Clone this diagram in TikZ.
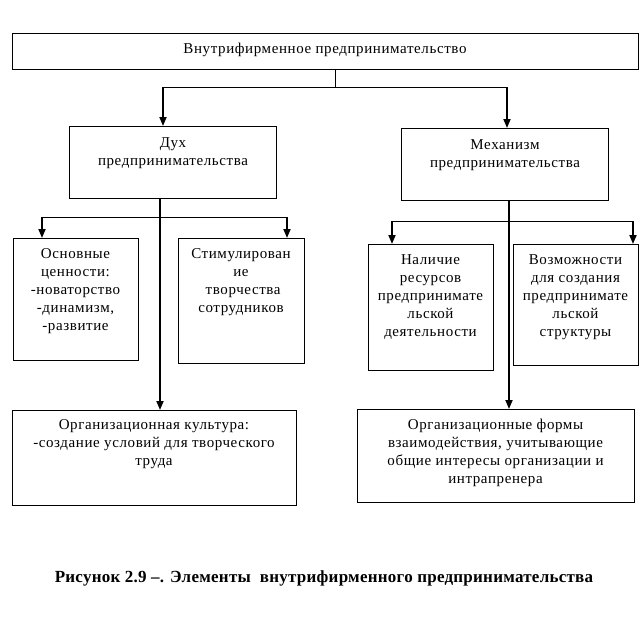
\documentclass[tikz,border=0pt]{standalone}
\usepackage{fontspec}
\setmainfont{Liberation Serif}
\usetikzlibrary{arrows.meta}
\begin{document}
\begin{tikzpicture}[x=1pt,y=-1pt,
  box/.style={draw,line width=0.8pt,inner sep=0pt,anchor=north west},
  txt/.style={anchor=north,align=center,inner sep=0pt,font=\fontsize{15}{18}\selectfont\addfontfeature{LetterSpace=4}},
  captxt/.style={anchor=center,inner sep=0pt,font=\fontsize{17}{18}\selectfont\bfseries\addfontfeature{LetterSpace=1.5}},
  thinln/.style={line width=0.8pt},
  arr/.style={line width=1.8pt,-{Triangle[length=9pt,width=7pt]}}]
\useasboundingbox (0,0) rectangle (643,621);
% boxes
\node[box,minimum width=626pt,minimum height=36pt] (top) at (12,33) {};
\node[box,minimum width=207pt,minimum height=72pt] (dukh) at (69,126) {};
\node[box,minimum width=207pt,minimum height=72pt] (mech) at (401,128) {};
\node[box,minimum width=125pt,minimum height=122pt] (osn) at (13,238) {};
\node[box,minimum width=126pt,minimum height=125pt] (stim) at (178,238) {};
\node[box,minimum width=125pt,minimum height=126pt] (nal) at (368,244) {};
\node[box,minimum width=125pt,minimum height=121pt] (voz) at (513,244) {};
\node[box,minimum width=284pt,minimum height=95pt] (orgL) at (12,410) {};
\node[box,minimum width=277pt,minimum height=93pt] (orgR) at (357,409) {};
% texts
\node[txt] (t1) at (325,43) {Внутрифирменное предпринимательство};
\node[txt] (t2) at (173,137) {Дух\\предпринимательства};
\node[txt] (t3) at (505,139) {Механизм\\предпринимательства};
\node[txt] (t4) at (75.5,248) {Основные\\ценности:\\-новаторство\\-динамизм,\\-развитие};
\node[txt] (t5) at (241,248) {Стимулирован\\ие\\\ творчества\\сотрудников};
\node[txt] (t6) at (430.5,254) {Наличие\\ресурсов\\предпринимате\\льской\\деятельности};
\node[txt] (t7) at (575.5,254) {Возможности\\для создания\\предпринимате\\льской\\структуры};
\node[txt] (t8) at (154,419) {Организационная культура:\\-создание условий для творческого\\труда};
\node[txt] (t9) at (495.5,419) {Организационные формы\\взаимодействия, учитывающие\\общие интересы организации и\\интрапренера};
\node[captxt] (caption) at (324,578) {Рисунок 2.9 –. Элементы\ \ внутрифирменного предпринимательства};
% connectors
\coordinate (j0) at (335,87);
\coordinate (hL) at (163,87);
\coordinate (hR) at (507,87);
\draw[thinln] (top.south -| j0) -- (j0);
\draw[thinln] (hL) -- (hR);
\draw[arr] (hL) -- (hL |- dukh.north);
\draw[arr] (hR) -- (hR |- mech.north);
\coordinate (vL) at (160,300);
\coordinate (vR) at (509,300);
\draw[arr] (vL |- dukh.south) -- (vL |- orgL.north);
\draw[arr] (vR |- mech.south) -- (vR |- orgR.north);
\coordinate (aL) at (42,217);
\coordinate (aR) at (287,217);
\draw[thinln] (aL) -- (aR);
\draw[arr] (aL) -- (aL |- osn.north);
\draw[arr] (aR) -- (aR |- stim.north);
\coordinate (bL) at (392,221);
\coordinate (bR) at (633,221);
\draw[thinln] (bL) -- (bR);
\draw[arr] (bL) -- (bL |- nal.north);
\draw[arr] (bR) -- (bR |- voz.north);
\end{tikzpicture}
\end{document}
